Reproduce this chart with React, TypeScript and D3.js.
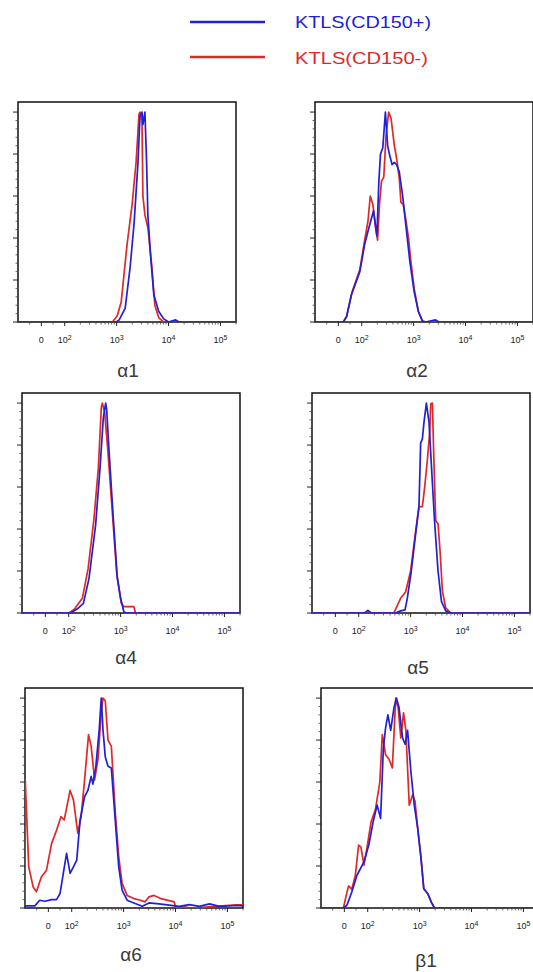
import React from "react";
import * as d3 from "d3";

type Pt = [number, number];

const legendLabels = ["KTLS(CD150+)", "KTLS(CD150-)"];
const panelTitles = ["α1", "α2", "α4", "α5", "α6", "β1"];
const yTicks = [0, 20, 40, 60, 80, 100];
const xTickValues = [0, 100, 1000, 10000, 100000];
const xTickLabels = [["0", ""], ["10", "2"], ["10", "3"], ["10", "4"], ["10", "5"]];

// histogram curves: [fluorescence intensity, % of max]
const a1Blue: Pt[] = [[-100,0],[980,0],[1120,1],[1460,6.5],[1820,26],[2170,47],[2580,76],[2820,98],[3080,100],[3210,94],[3510,100],[3780,76],[4000,51],[4500,32],[5210,13],[6490,5],[8070,1.5],[10050,0],[13680,1],[16000,0],[200000,0]];
const a1Red: Pt[] = [[-100,0],[830,0],[1030,3],[1225,9.5],[1590,37],[1990,56],[2370,76],[2700,99],[2820,100],[3080,96],[3210,60],[3510,51],[4000,45],[4780,26],[5450,8],[6490,2],[8070,0],[200000,0]];

const a2Blue: Pt[] = [[-100,0],[21,0],[35,2.5],[56,13],[92,24],[114,37],[138,45],[169,53],[196,41],[214,67],[230,80],[255,83],[286,100],[316,84],[341,80],[384,75],[425,76],[470,75],[529,71.5],[612,60.5],[709,46],[845,29],[1023,14.5],[1236,5],[1473,0.5],[1710,0],[2650,1],[3060,0],[200000,0]];
const a2Red: Pt[] = [[-100,0],[21,0],[35,2.5],[58,14],[92,25],[114,39],[132,48],[146,60],[164,56],[185,45],[202,39],[220,56],[240,67],[266,69],[295,89],[331,100],[368,97],[425,84],[470,78],[529,68.5],[570,57],[631,56],[709,48.6],[798,40],[885,29],[1023,16],[1236,5],[1473,0.5],[1710,0],[200000,0]];

const a4Blue: Pt[] = [[-100,0],[109,0],[147,2],[192,4.6],[246,16.5],[330,42],[401,69],[464,93],[515,100],[538,97],[596,78],[723,45],[863,16.5],[1000,7],[1157,0.5],[1343,0],[200000,0]];
const a4Red: Pt[] = [[-100,0],[100,0],[127,1.7],[183,7],[236,21],[307,45],[372,69],[425,98],[444,100],[492,95.7],[570,76.7],[692,48],[838,19.5],[1030,4.6],[1157,3],[1800,3],[1940,0],[200000,0]];

const a5Blue: Pt[] = [[-100,0],[130,0],[150,1.2],[175,0],[513,0],[640,1],[780,1.5],[863,7],[1030,20],[1250,37.7],[1449,50.7],[1561,81],[1683,82.8],[1808,90.8],[2013,100],[2261,90.8],[2628,61.8],[2914,42.5],[3375,20],[3926,5.5],[4753,1],[5940,0],[200000,0]];
const a5Red: Pt[] = [[-100,0],[475,0],[641,7],[800,10],[1000,20],[1250,39],[1449,50.7],[1683,50.7],[1866,60],[2103,73],[2333,86],[2440,99.7],[2628,100],[2826,70],[3048,44],[3375,42.5],[3690,29.6],[4102,10.3],[4753,2.4],[5940,0],[200000,0]];

const a6Blue: Pt[] = [[-100,0],[-98,1],[-58,1],[-37,3.7],[-15,3.2],[14,4],[35,4],[50,6.9],[64,16.5],[78,26],[93,16.5],[108,19.6],[125,22.8],[145,42],[177,53],[205,56],[237,62.7],[256,59],[292,67.5],[339,85],[371,100],[400,85],[443,72],[500,67.5],[580,66.7],[674,45],[805,19.6],[935,8.5],[1169,3.7],[1577,2.4],[2285,0.8],[3080,2.4],[4820,2],[7530,1.4],[11800,0.8],[18450,1.6],[28840,0.8],[45080,2],[70600,0.8],[148000,1.2],[200000,1]];
const a6Red: Pt[] = [[-100,0],[-99,61],[-84,19.6],[-65,10],[-51,7.7],[-30,14.8],[-8,18],[14,30.8],[35,37],[54,43.5],[68,42],[93,56],[108,51.5],[131,35.6],[152,43.5],[177,61],[211,82.6],[237,77],[276,61],[320,70.7],[371,93],[400,100],[443,98.7],[500,80],[580,77],[693,45],[805,24.4],[935,11.7],[1169,6],[1577,4.5],[2120,3.7],[2570,2.9],[3080,5.3],[3855,6],[5190,4.5],[7530,3.5],[9430,2.9],[10140,0],[14760,0.5],[20000,0],[148000,1.5],[200000,1.5]];

const b1Blue: Pt[] = [[-100,0],[-4,0],[11,1.3],[32,7.7],[54,15.6],[84,22],[105,30],[127,41],[152,49],[177,42.7],[200,76],[221,85.8],[245,92],[277,84.6],[321,95.4],[358,100],[402,95.4],[469,81],[526,78],[586,84.6],[679,65],[789,49],[918,38],[1065,23.6],[1202,9.2],[1439,6.8],[1669,2.9],[1935,0],[200000,0]];
const b1Red: Pt[] = [[-100,0],[-4,0],[8,6],[18,10.5],[32,9],[47,15.6],[61,30],[71,29],[84,20.4],[97,28.7],[116,41],[141,47],[171,60],[191,82.6],[221,73],[256,71],[298,66.7],[347,100],[386,95.4],[434,81],[490,93],[543,84.6],[631,49],[735,54],[813,51],[918,38],[1065,23.6],[1202,9.2],[1439,6.8],[1669,2.9],[1935,0],[200000,0]];

const blueSeries = [a1Blue, a2Blue, a4Blue, a5Blue, a6Blue, b1Blue];
const redSeries = [a1Red, a2Red, a4Red, a5Red, a6Red, b1Red];

const BLUE = "#2020d8";
const RED = "#e02828";
const W = 218;
const H = 220;

// panel placement (top-left of frame) and title anchor
const frames = [
  { x: 18, y: 102, tx: 128, ty: 377 },
  { x: 315, y: 102, tx: 417, ty: 377 },
  { x: 22, y: 393, tx: 126, ty: 664 },
  { x: 312, y: 393, tx: 418, ty: 674 },
  { x: 25, y: 688, tx: 131, ty: 961 },
  { x: 321, y: 688, tx: 426, ty: 967 },
];

// log above 100, linear around zero (biexponential-like display)
const biex = (v: number) => (v >= 100 ? Math.log10(v) : 1.55 + 0.0045 * v);

const tScale = d3.scaleLinear().domain([1.1, 5.3]).range([0, W]);
const xs = (v: number) => tScale(biex(v));
const ys = d3.scaleLinear().domain([0, 104.8]).range([H, 0]);

const line = d3
  .line<Pt>()
  .x((d) => xs(d[0]))
  .y((d) => ys(d[1]));

const minorX: number[] = [-50, 50];
for (let k = 2; k <= 4; k++) for (let m = 2; m <= 9; m++) minorX.push(m * Math.pow(10, k));
minorX.push(200000);
const minorY = d3.range(0, 101, 4).filter((v) => v % 20 !== 0);

function Panel({ i }: { i: number }) {
  const f = frames[i];
  return (
    <g transform={`translate(${f.x},${f.y})`}>
      <clipPath id={`clip${i}`}>
        <rect x={0} y={0} width={W} height={H} />
      </clipPath>
      <rect x={0} y={0} width={W} height={H} fill="#fff" />
      <rect x={0} y={0} width={W} height={H} fill="none" stroke="#111" strokeWidth={1.5} />
      <g clipPath={`url(#clip${i})`}>
        <path d={line(redSeries[i]) || ""} fill="none" stroke={RED} strokeWidth={1.7} strokeLinejoin="round" />
        <path d={line(blueSeries[i]) || ""} fill="none" stroke={BLUE} strokeWidth={1.7} strokeLinejoin="round" />
      </g>
      {yTicks.map((v) => (
        <line key={"y" + v} x1={-5} x2={0} y1={ys(v)} y2={ys(v)} stroke="#222" strokeWidth={1} />
      ))}
      {minorY.map((v) => (
        <line key={"my" + v} x1={-2.5} x2={0} y1={ys(v)} y2={ys(v)} stroke="#444" strokeWidth={0.8} />
      ))}
      {xTickValues.map((v) => (
        <line key={"x" + v} x1={xs(v)} x2={xs(v)} y1={H} y2={H + 4} stroke="#222" strokeWidth={1} />
      ))}
      {minorX.map((v) => (
        <line key={"mx" + v} x1={xs(v)} x2={xs(v)} y1={H} y2={H + 2.5} stroke="#444" strokeWidth={0.8} />
      ))}
      {xTickValues.map((v, j) => (
        <text
          key={"l" + v}
          x={xs(v)}
          y={H + 21}
          textAnchor="middle"
          fontSize={9}
          fontFamily="Liberation Sans, Arial, sans-serif"
          fill="#222"
        >
          {xTickLabels[j][0]}
          {xTickLabels[j][1] && (
            <tspan dy={-3.5} fontSize={7}>
              {xTickLabels[j][1]}
            </tspan>
          )}
        </text>
      ))}
    </g>
  );
}

export default function App() {
  return (
    <svg
      width={533}
      height={972}
      style={{ position: "absolute", left: 0, top: 0, background: "#fff" }}
    >
      <rect width={533} height={972} fill="#fff" />
      <line x1={190} x2={265} y1={22} y2={22} stroke={BLUE} strokeWidth={2.5} />
      <line x1={190} x2={265} y1={57} y2={57} stroke={RED} strokeWidth={2.5} />
      <text x={295} y={28} fontSize={17} fill={BLUE} textLength={136} lengthAdjust="spacingAndGlyphs" fontFamily="Liberation Sans, Arial, sans-serif">
        {legendLabels[0]}
      </text>
      <text x={295} y={64} fontSize={17} fill={RED} textLength={133} lengthAdjust="spacingAndGlyphs" fontFamily="Liberation Sans, Arial, sans-serif">
        {legendLabels[1]}
      </text>
      {frames.map((f, i) => (
        <g key={i}>
          <Panel i={i} />
          <text x={f.tx} y={f.ty} textAnchor="middle" fontSize={19} fill="#3a3a3a" fontFamily="Liberation Sans, Arial, sans-serif">
            {panelTitles[i]}
          </text>
        </g>
      ))}
    </svg>
  );
}
